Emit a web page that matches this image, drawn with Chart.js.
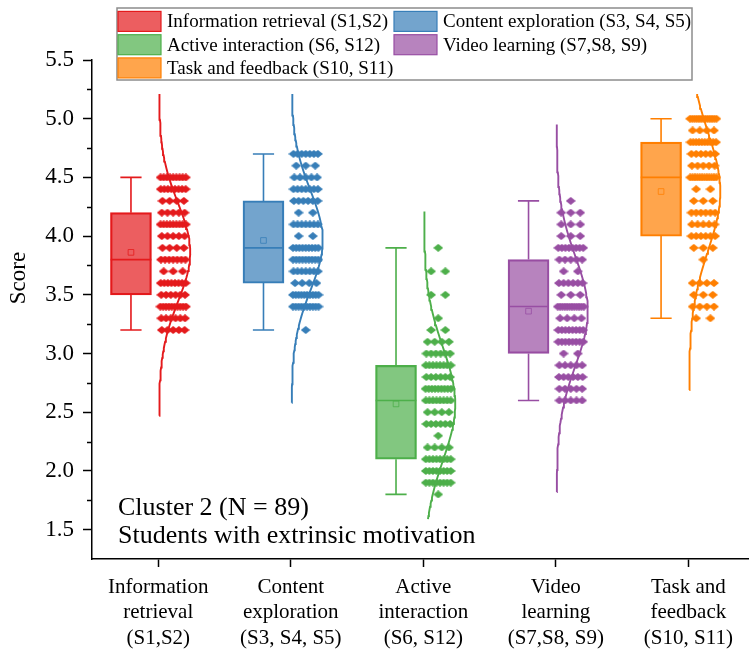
<!DOCTYPE html>
<html>
<head>
<meta charset="utf-8">
<script src="https://cdn.jsdelivr.net/npm/chart.js@4.4.0/dist/chart.umd.min.js"></script>
<style>
  html, body { margin: 0; padding: 0; background: #fff; }
  #wrap { width: 753px; height: 653px; }
</style>
</head>
<body>
<div id="wrap"><canvas id="chart" width="753" height="653"></canvas></div>
<script>
// categories on the x axis (multi-line labels)
const categories = [
  ['Information', 'retrieval', '(S1,S2)'],
  ['Content', 'exploration', '(S3, S4, S5)'],
  ['Active', 'interaction', '(S6, S12)'],
  ['Video', 'learning', '(S7,S8, S9)'],
  ['Task and', 'feedback', '(S10, S11)']
];
const legendNames = [
  'Information retrieval (S1,S2)',
  'Content exploration (S3, S4, S5)',
  'Active interaction (S6, S12)',
  'Video learning (S7,S8, S9)',
  'Task and feedback (S10, S11)'
];
const yTicks = [1.5, 2.0, 2.5, 3.0, 3.5, 4.0, 4.5, 5.0, 5.5];

// score levels and how many students sit on each level (N = 89 per group)
const levelsIR = [3.2, 3.3, 3.4, 3.5, 3.6, 3.7, 3.8, 3.9, 4.0, 4.1, 4.2, 4.3, 4.4, 4.5];
const countsIR = [5, 6, 10, 6, 8, 3, 7, 4, 5, 9, 5, 4, 8, 9];
const levelsCE = [3.2, 3.3, 3.4, 3.5, 3.6, 3.7, 3.8, 3.9, 4.0, 4.1, 4.2, 4.3, 4.4, 4.5, 4.6, 4.7];
const countsCE = [1, 0, 10, 10, 4, 7, 9, 9, 2, 7, 2, 6, 7, 5, 3, 7];
const levelsAI = [1.8, 1.9, 2.0, 2.1, 2.2, 2.3, 2.4, 2.5, 2.6, 2.7, 2.8, 2.9, 3.0, 3.1, 3.2, 3.3, 3.4, 3.5, 3.6, 3.7, 3.8, 3.9];
const countsAI = [1, 8, 8, 8, 4, 1, 6, 4, 8, 9, 6, 8, 6, 4, 2, 1, 0, 2, 0, 2, 0, 1];
const levelsVL = [2.6, 2.7, 2.8, 2.9, 3.0, 3.1, 3.2, 3.3, 3.4, 3.5, 3.6, 3.7, 3.8, 3.9, 4.0, 4.1, 4.2, 4.3];
const countsVL = [5, 5, 6, 5, 2, 8, 8, 4, 12, 3, 6, 2, 5, 8, 3, 3, 3, 1];
const levelsTF = [3.3, 3.4, 3.5, 3.6, 3.7, 3.8, 3.9, 4.0, 4.1, 4.2, 4.3, 4.4, 4.5, 4.6, 4.7, 4.8, 4.9, 5.0];
const countsTF = [2, 4, 3, 4, 0, 1, 3, 6, 5, 6, 3, 2, 12, 5, 6, 10, 4, 13];

// box plot statistics
const whiskerLow  = [3.2, 3.2, 1.8, 2.6, 3.3];
const q1          = [3.5, 3.6, 2.1, 3.0, 4.0];
const medians     = [3.8, 3.9, 2.6, 3.4, 4.5];
const q3          = [4.2, 4.3, 2.9, 3.8, 4.8];
const whiskerHigh = [4.5, 4.7, 3.9, 4.3, 5.0];

// range over which each normal curve is drawn
const curveLow  = [2.47, 2.58, 1.59, 1.82, 2.69];
const curveHigh = [5.21, 5.21, 4.21, 4.95, 5.21];

const levels = [levelsIR, levelsCE, levelsAI, levelsVL, levelsTF];
const counts = [countsIR, countsCE, countsAI, countsVL, countsTF];

// colours
const lineColors = ['#E41A1C', '#377EB8', '#4DAF4A', '#984EA3', '#FF7F00'];
const fillColors = ['rgba(228,26,28,0.7)', 'rgba(55,126,184,0.7)', 'rgba(77,175,74,0.7)',
                    'rgba(152,78,163,0.7)', 'rgba(255,127,0,0.7)'];

const serif = 'Liberation Serif';
const boxShift = -0.206;   // box sits left of the category tick
const capHalf = 0.08;
const boxHalf = 0.1536;
const curveAmp = 0.235;

// little diamond used for the raw points
function diamond(color) {
  const c = document.createElement('canvas');
  c.width = 10; c.height = 8;
  const g = c.getContext('2d');
  g.fillStyle = color;
  g.beginPath();
  g.moveTo(5, 0); g.lineTo(10, 4); g.lineTo(5, 8); g.lineTo(0, 4);
  g.closePath(); g.fill();
  return c;
}

function stats(lv, ct) {
  let n = 0, s = 0;
  lv.forEach((v, i) => { n += ct[i]; s += v * ct[i]; });
  const m = s / n;
  let ss = 0;
  lv.forEach((v, i) => { ss += ct[i] * (v - m) * (v - m); });
  return { mean: m, sd: Math.sqrt(ss / (n - 1)) };
}

const datasets = [];

// boxes
datasets.push({
  type: 'bar',
  data: categories.map((c, i) => ({ x: i + 1 + boxShift, y: [q1[i], q3[i]] })),
  backgroundColor: fillColors,
  borderColor: lineColors,
  borderWidth: 1.6,
  borderSkipped: false,
  barThickness: 41,
  order: 5
});

categories.forEach((c, i) => {
  const cx = i + 1 + boxShift;
  const st = stats(levels[i], counts[i]);

  // whiskers and caps
  datasets.push({
    type: 'scatter', showLine: true, spanGaps: false,
    data: [
      { x: cx - capHalf, y: whiskerHigh[i] }, { x: cx + capHalf, y: whiskerHigh[i] }, { x: cx, y: null },
      { x: cx, y: whiskerHigh[i] }, { x: cx, y: q3[i] }, { x: cx, y: null },
      { x: cx, y: q1[i] }, { x: cx, y: whiskerLow[i] }, { x: cx, y: null },
      { x: cx - capHalf, y: whiskerLow[i] }, { x: cx + capHalf, y: whiskerLow[i] }
    ],
    borderColor: lineColors[i], borderWidth: 1.6, pointRadius: 0, order: 4
  });

  // median
  datasets.push({
    type: 'scatter', showLine: true,
    data: [{ x: cx - boxHalf, y: medians[i] }, { x: cx + boxHalf, y: medians[i] }],
    borderColor: lineColors[i], borderWidth: 1.6, pointRadius: 0, order: 3
  });

  // mean marker
  datasets.push({
    type: 'scatter',
    data: [{ x: cx, y: st.mean }],
    pointStyle: 'rect', pointRadius: 4, borderWidth: 0.8,
    borderColor: lineColors[i], backgroundColor: 'rgba(0,0,0,0)', order: 2
  });

  // raw points, spread sideways within each score row
  const pts = [];
  levels[i].forEach((v, k) => {
    const n = counts[i][k];
    for (let j = 0; j < n; j++) {
      pts.push({ x: i + 1 + 0.005 + 0.215 * (j + 0.5) / n, y: v });
    }
  });
  datasets.push({
    type: 'scatter', data: pts,
    pointStyle: diamond(lineColors[i]), pointRadius: 4, order: 1
  });

  // normal curve fitted to the group
  const curve = [];
  const steps = 100;
  for (let k = 0; k <= steps; k++) {
    const v = curveLow[i] + (curveHigh[i] - curveLow[i]) * k / steps;
    const z = (v - st.mean) / st.sd;
    curve.push({ x: i + 1 + 0.006 + curveAmp * Math.exp(-0.5 * z * z), y: v });
  }
  datasets.push({
    type: 'scatter', showLine: true, data: curve,
    borderColor: lineColors[i], borderWidth: 1.9, pointRadius: 0, tension: 0, order: 0
  });
});

const decor = {
  id: 'decor',
  afterDraw(chart) {
    const ctx = chart.ctx;
    const ys = chart.scales.y;
    const left = chart.chartArea.left;

    // minor ticks on the y axis
    ctx.save();
    ctx.strokeStyle = '#000';
    ctx.lineWidth = 1.5;
    for (let i = 0; i < yTicks.length - 1; i++) {
      const py = Math.round(ys.getPixelForValue((yTicks[i] + yTicks[i + 1]) / 2)) + 0.5;
      ctx.beginPath();
      ctx.moveTo(left - 5, py);
      ctx.lineTo(left, py);
      ctx.stroke();
    }
    ctx.restore();

    // y axis title
    ctx.save();
    ctx.fillStyle = '#000';
    ctx.font = '23px "' + serif + '"';
    ctx.textAlign = 'center';
    ctx.textBaseline = 'middle';
    ctx.translate(19, 278);
    ctx.rotate(-Math.PI / 2);
    ctx.fillText('Score', 0, 0);
    ctx.restore();

    // cluster note
    ctx.save();
    ctx.fillStyle = '#000';
    ctx.font = '26px "' + serif + '"';
    ctx.textAlign = 'left';
    ctx.textBaseline = 'alphabetic';
    ctx.fillText('Cluster 2 (N = 89)', 118, 515);
    ctx.fillText('Students with extrinsic motivation', 118, 543);
    ctx.restore();

    // legend
    ctx.save();
    ctx.fillStyle = '#fff';
    ctx.fillRect(117, 8, 575, 72);
    ctx.strokeStyle = '#8c8c8c';
    ctx.lineWidth = 1.5;
    ctx.strokeRect(117, 8, 575, 72);
    ctx.font = '19px "' + serif + '"';
    ctx.textBaseline = 'middle';
    ctx.textAlign = 'left';
    const colX = [118, 394];
    const rowY = [21.4, 44.7, 67.9];
    legendNames.forEach((name, i) => {
      const bx = colX[i % 2], by = rowY[Math.floor(i / 2)];
      ctx.fillStyle = fillColors[i];
      ctx.fillRect(bx, by - 10, 43, 20);
      ctx.strokeStyle = lineColors[i];
      ctx.lineWidth = 1.2;
      ctx.strokeRect(bx, by - 10, 43, 20);
      ctx.fillStyle = '#000';
      ctx.fillText(name, bx + 49, by + 1);
    });
    ctx.restore();
  }
};

new Chart(document.getElementById('chart'), {
  type: 'scatter',
  data: { datasets },
  options: {
    responsive: false,
    animation: false,
    layout: { padding: { top: 60, right: 0, bottom: 0, left: 0 } },
    plugins: { legend: { display: false }, tooltip: { enabled: false } },
    scales: {
      x: {
        type: 'linear', min: 0.5, max: 5.45, offset: false,
        afterBuildTicks: s => { s.ticks = categories.map((c, i) => ({ value: i + 1 })); },
        afterFit: s => { s.height = 94; },
        ticks: {
          callback: v => categories[Math.round(v) - 1],
          autoSkip: false, maxRotation: 0, color: '#000', padding: 8,
          font: { family: serif, size: 21, lineHeight: 1.2 }
        },
        grid: { offset: false, drawOnChartArea: false, tickLength: 8, tickColor: '#000', tickWidth: 1.5 },
        border: { color: '#000', width: 1.5 }
      },
      y: {
        min: 1.25, max: 5.5,
        afterBuildTicks: s => { s.ticks = yTicks.map(v => ({ value: v })); },
        afterFit: s => { s.width = 92; },
        ticks: {
          callback: v => v.toFixed(1),
          color: '#000', padding: 9,
          font: { family: serif, size: 23 }
        },
        grid: { drawOnChartArea: false, tickLength: 9, tickColor: '#000', tickWidth: 1.5 },
        border: { color: '#000', width: 1.5 }
      }
    }
  },
  plugins: [decor]
});
</script>
</body>
</html>
